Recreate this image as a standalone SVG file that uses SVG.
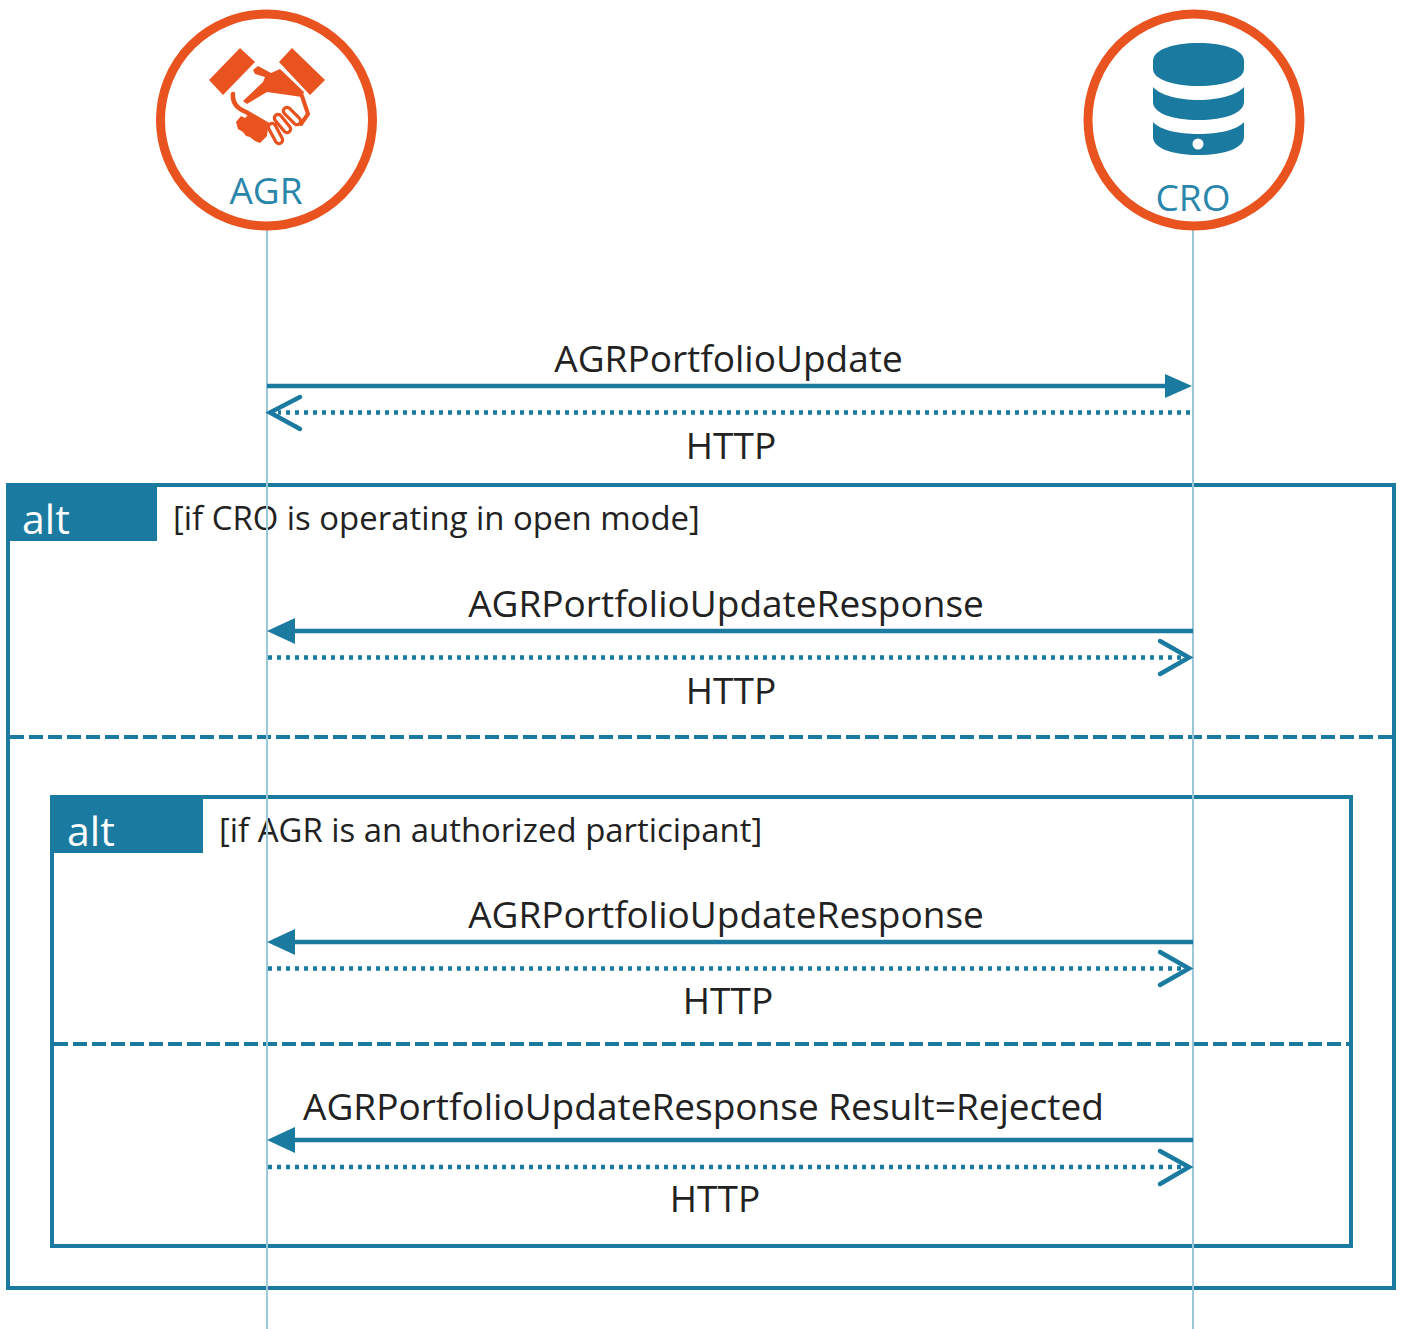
<svg xmlns="http://www.w3.org/2000/svg" width="1401" height="1329" viewBox="0 0 1401 1329">
<style>
text{font-family:"Open Sans","Liberation Sans",sans-serif}
.m{font-size:37px;fill:#222}
.g{font-size:32.900px;fill:#222}
.alt{font-size:41px;fill:#fff}
.who{font-size:37px;fill:#2a86ab}
.life{stroke:#9cc7d8;stroke-width:2;fill:none}
.ring{fill:#fff;stroke:#e9531f;stroke-width:9}
.frame{fill:none;stroke:#1a7aa0;stroke-width:4}
.tab{fill:#1a7aa0}
.div{stroke:#1a7aa0;stroke-width:4;stroke-dasharray:14 5;fill:none}
.sol{stroke:#1a7aa0;stroke-width:4.500;fill:none}
.dot{stroke:#1a7aa0;stroke-width:4.500;stroke-dasharray:4 5;fill:none}
.open{stroke:#1a7aa0;stroke-width:4.500;fill:none;stroke-linecap:round;stroke-linejoin:miter}
.head{fill:#1a7aa0}
.oline{stroke:#e9531f;fill:none;stroke-linecap:round;stroke-linejoin:round}
.wline{stroke:#fff;stroke-width:4;fill:none;stroke-linecap:round}
</style>
<rect width="1401" height="1329" fill="#fff"/>
<g id="frames">
<rect class="frame" x="8" y="485" width="1386" height="803"/>
<path class="tab" d="M8 485H157V541H8Z"/>
<text class="alt" x="22" y="534">alt</text>
<text class="g" x="173" y="530">[if CRO is operating in open mode]</text>
<path class="div" d="M10 737H1392"/>
<rect class="frame" x="52" y="797" width="1299" height="449"/>
<path class="tab" d="M52 797H203V853H52Z"/>
<text class="alt" x="67" y="846">alt</text>
<text class="g" x="219" y="842">[if AGR is an authorized participant]</text>
<path class="div" d="M54 1044H1349"/>
</g>
<g id="lifelines">
<path class="life" d="M267 228V1329"/>
<path class="life" d="M1193 228V1329"/>
</g>
<g id="AGR">
<circle class="ring" cx="266.500" cy="120" r="106"/>
<path fill="#e9531f" d="M240 48L255 62L223 95L209 80Z"/>
<path fill="#e9531f" d="M292 48L325 80L310 95L279 62Z"/>
<path fill="#e9531f" d="M253 70L258 66L271 73L280 69L304 92L302 97L267 92L247 104L243 101L263 82L265 77L255 74Z"/>
<path class="oline" stroke-width="4.500" d="M233 94C232 104 238 109 246 112L270 126"/>
<path class="oline" stroke-width="4" d="M302 96L308 114L301 124"/>
<path class="oline" stroke-width="10.500" d="M272 127L279 140M278 118L287 129M287 111L297 121"/>
<path class="wline" d="M272 127L279 140M278 118L287 129M287 111L297 121"/>
<path fill="#e9531f" d="M236 122L241 116L245 118L249 114L254 117L258 118L263 123L268 128L267 136L260 143L255 141L250 137L246 136L243 132L238 129Z"/>
<text class="who" x="266" y="204" text-anchor="middle">AGR</text>
</g>
<g id="CRO">
<circle class="ring" cx="1194" cy="120" r="106"/>
<path class="tab" d="M1153 61C1153 50 1172 43 1198.500 43C1225 43 1244 50 1244 61V69C1244 79 1225 86 1198.500 86C1172 86 1153 79 1153 69Z"/>
<path class="tab" d="M1153 87C1160 95 1178 100 1198.500 100C1219 100 1237 95 1244 87V102C1244 113 1225 120 1198.500 120C1172 120 1153 113 1153 102Z"/>
<path class="tab" d="M1153 122C1160 130 1178 134 1198.500 134C1219 134 1237 130 1244 122V137C1244 148 1225 155 1198.500 155C1172 155 1153 148 1153 137Z"/>
<circle cx="1198" cy="144" r="5.500" fill="#fff"/>
<text class="who" x="1193" y="211" text-anchor="middle">CRO</text>
</g>
<g id="connectors">
<path class="sol" d="M267 386H1166"/>
<path class="head" d="M1192 386L1165 374V398Z"/>
<path class="dot" d="M1190 412.500H278"/>
<path class="open" d="M300 397L270 412.500L300 429"/>
<path class="sol" d="M1193 631H294"/>
<path class="head" d="M267 631L295 618V644Z"/>
<path class="dot" d="M268 657.500H1182"/>
<path class="open" d="M1160 641L1189 657.500L1160 674"/>
<path class="sol" d="M1193 942H294"/>
<path class="head" d="M267 942L295 929V955Z"/>
<path class="dot" d="M268 968.500H1182"/>
<path class="open" d="M1160 952L1189 968.500L1160 985"/>
<path class="sol" d="M1193 1140H294"/>
<path class="head" d="M267 1140L295 1127V1153Z"/>
<path class="dot" d="M268 1167H1182"/>
<path class="open" d="M1160 1151L1189 1167L1160 1184"/>
</g>
<g id="labels">
<text class="m" x="728.500" y="372" text-anchor="middle">AGRPortfolioUpdate</text>
<text class="m" x="731" y="459" text-anchor="middle">HTTP</text>
<text class="m" x="726" y="617" text-anchor="middle">AGRPortfolioUpdateResponse</text>
<text class="m" x="731" y="704" text-anchor="middle">HTTP</text>
<text class="m" x="726" y="928" text-anchor="middle">AGRPortfolioUpdateResponse</text>
<text class="m" x="728" y="1014" text-anchor="middle">HTTP</text>
<text class="m" x="703.500" y="1120" text-anchor="middle">AGRPortfolioUpdateResponse Result=Rejected</text>
<text class="m" x="715" y="1212" text-anchor="middle">HTTP</text>
</g>
</svg>
